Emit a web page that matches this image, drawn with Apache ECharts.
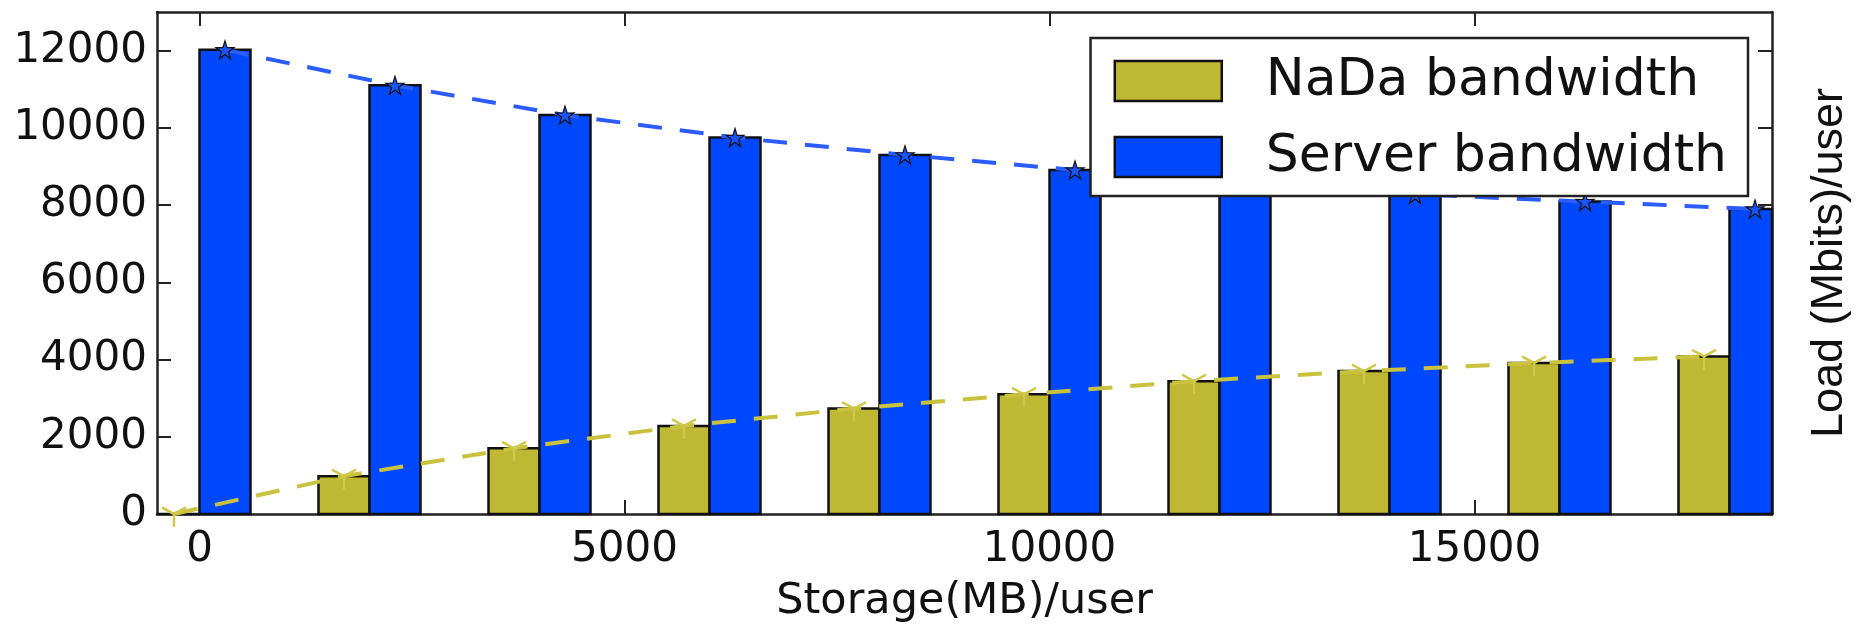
<!DOCTYPE html>
<html>
<head>
<meta charset="utf-8">
<title>NaDa vs Server bandwidth</title>
<script src="https://cdn.jsdelivr.net/npm/echarts@6/dist/echarts.min.js"></script>
<style>
  html, body { margin: 0; padding: 0; background: #fff; }
  #chart { width: 1860px; height: 628px; }
</style>
</head>
<body>
<div id="chart"></div>
<script>
// values
const storage = [0, 2000, 4000, 6000, 8000, 10000, 12000, 14000, 16000, 18000]
const nadaBandwidth = [0, 980, 1700, 2280, 2730, 3100, 3440, 3700, 3910, 4080]
const serverBandwidth = [12020, 11100, 10330, 9750, 9300, 8910, 8570, 8280, 8090, 7900]
const xTicks = [0, 5000, 10000, 15000]
const yTicks = [0, 2000, 4000, 6000, 8000, 10000, 12000]

const BAR_W = 600   // bar width in storage units
const NADA = '#bfb833'
const SERVER = '#0048ff'
const FONT = '"DejaVu Sans", sans-serif'

// star marker like matplotlib '*'
const STAR = 'path://M50,0L61.2,34.6L97.6,34.5L68.1,55.9L79.4,90.5L50,69L20.6,90.5L31.9,55.9L2.4,34.5L38.8,34.6Z'
// tri_down marker like matplotlib '1'
const TRI_DOWN = 'path://M0,0L0,10M0,0L-8.66,-5M0,0L8.66,-5M0,-10L0,-10'

var chart = echarts.init(document.getElementById('chart'), null, {renderer: 'canvas'})

function bars(name, values, from, color) {
    return {
        name: name,
        type: 'custom',
        z: 2,
        data: storage.map((s, i) => [s, values[i]]),
        encode: {x: 0, y: 1},
        itemStyle: {color: color},
        renderItem: function (params, api) {
            var x = api.value(0)
            var p0 = api.coord([x + from, api.value(1)])
            var p1 = api.coord([x + from + BAR_W, 0])
            var cs = params.coordSys
            var shape = echarts.graphic.clipRectByRect(
                {x: p0[0], y: p0[1], width: p1[0] - p0[0], height: p1[1] - p0[1]},
                {x: cs.x, y: cs.y, width: cs.width, height: cs.height})
            return shape && {
                type: 'rect',
                shape: shape,
                style: {fill: color, stroke: '#111', lineWidth: 2.5}
            }
        }
    }
}

var frameLine = {show: true, onZero: false, lineStyle: {color: '#222', width: 2.5}}
var tick = (vals) => ({show: true, inside: true, length: 14, customValues: vals, lineStyle: {color: '#222', width: 2}})
var plain = (v) => String(v)

var option = {
    animation: false,
    grid: {left: 157, right: 87, top: 12, bottom: 111},
    legend: {
        right: 112,
        top: 38,
        orient: 'vertical',
        backgroundColor: '#fff',
        borderColor: '#222',
        borderWidth: 2.5,
        borderRadius: 0,
        padding: [17, 21, 13, 23],
        itemWidth: 107,
        itemHeight: 40,
        itemGap: 24,
        textStyle: {fontFamily: FONT, fontSize: 52, color: '#111', padding: [0, 0, 0, 39]},
        data: [
            {name: 'NaDa bandwidth', icon: 'rect', itemStyle: {color: NADA, borderColor: '#111', borderWidth: 2.5}},
            {name: 'Server bandwidth', icon: 'rect', itemStyle: {color: SERVER, borderColor: '#111', borderWidth: 2.5}}
        ]
    },
    xAxis: [{
        type: 'value',
        position: 'bottom',
        min: -500,
        max: 18500,
        name: 'Storage(MB)/user',
        nameLocation: 'middle',
        nameGap: 66,
        nameTextStyle: {fontFamily: FONT, fontSize: 43, color: '#111'},
        axisLine: frameLine,
        axisTick: tick(xTicks),
        axisLabel: {customValues: xTicks, formatter: plain, fontFamily: FONT, fontSize: 42, color: '#111', margin: 15},
        splitLine: {show: false}
    }, {
        type: 'value',
        position: 'top',
        min: -500,
        max: 18500,
        axisLine: frameLine,
        axisTick: tick(xTicks),
        axisLabel: {show: false},
        splitLine: {show: false}
    }],
    yAxis: [{
        type: 'value',
        position: 'left',
        min: 0,
        max: 13000,
        axisLine: frameLine,
        axisTick: tick(yTicks),
        axisLabel: {customValues: yTicks, formatter: plain, fontFamily: FONT, fontSize: 42, color: '#111', margin: 10},
        splitLine: {show: false}
    }, {
        type: 'value',
        position: 'right',
        min: 0,
        max: 13000,
        name: 'Load (Mbits)/user',
        nameLocation: 'middle',
        nameRotate: 90,
        nameGap: 35,
        nameTextStyle: {fontFamily: '"Liberation Sans", Arial, sans-serif', fontSize: 45, color: '#111'},
        axisLine: frameLine,
        axisTick: tick(yTicks),
        axisLabel: {show: false},
        splitLine: {show: false}
    }],
    series: [
        bars('NaDa bandwidth', nadaBandwidth, -BAR_W, NADA),
        bars('Server bandwidth', serverBandwidth, 0, SERVER),
        {
            name: 'NaDa fit',
            type: 'line',
            z: 3,
            data: storage.map((s, i) => [s - BAR_W / 2, nadaBandwidth[i]]),
            symbol: TRI_DOWN,
            symbolSize: [24, 26],
            itemStyle: {color: 'transparent', borderColor: '#cfc84a', borderWidth: 2.5},
            lineStyle: {color: '#c9c23e', width: 4, type: [24, 18]}
        },
        {
            name: 'Server fit',
            type: 'line',
            z: 3,
            data: storage.map((s, i) => [s + BAR_W / 2, serverBandwidth[i]]),
            symbol: STAR,
            symbolSize: 18,
            itemStyle: {color: '#1a55ff', borderColor: '#111', borderWidth: 1.2},
            lineStyle: {color: '#2a5cff', width: 4, type: [24, 18]}
        }
    ]
}

chart.setOption(option)
</script>
</body>
</html>
